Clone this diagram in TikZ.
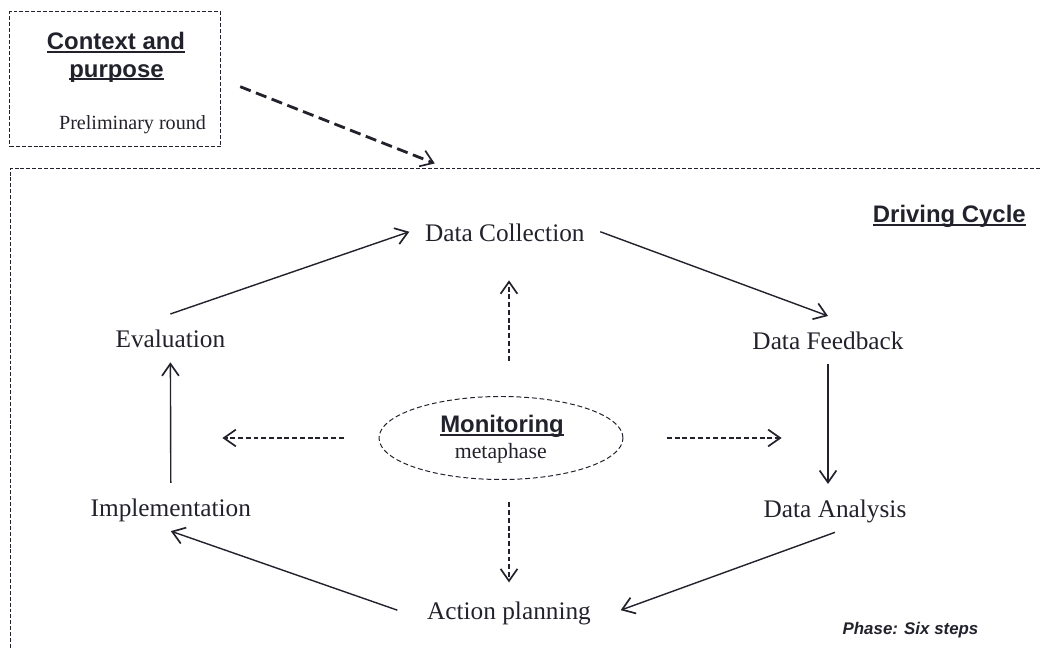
\documentclass[tikz,border=0pt]{standalone}
\usepackage{fontspec}
\setmainfont{Liberation Serif}
\newfontfamily\headfont{Liberation Sans}
\usepackage{tikz}
\usetikzlibrary{arrows.meta}
\usetikzlibrary{positioning}
\usetikzlibrary{shapes.geometric}
\definecolor{ink}{RGB}{34,34,44}
% underline that runs through the descenders
\newcommand{\headbar}[1]{\setbox0\hbox{#1}\rlap{\rule[-2.1pt]{\wd0}{1.3pt}}\box0}
\tikzset{
    >={Straight Barb[length=3mm,width=4.2mm,line width=1.2pt]},
    base/.style =   {
                        text=ink, inner sep=0pt, anchor=base,
                        font=\fontsize{18}{22}\selectfont
                    },
    step_node/.style = {base, text height=24pt, text depth=10pt, inner xsep=11pt},
    heading/.style = {base, font=\headfont\bfseries\fontsize{17}{20}\selectfont},
    small_note/.style = {base, font=\fontsize{14.3}{17}\selectfont},
    frame_line/.style = {draw=ink, line width=0.7pt, dash pattern=on 2.8pt off 1.4pt},
    monitor_shape/.style = {ellipse, draw=ink, line width=0.7pt, dash pattern=on 3.5pt off 2pt,
                            minimum width=6.1cm, minimum height=2.075cm, inner sep=0pt},
    cycle_arrow/.style = {->, draw=ink, line width=1pt},
    monitor_arrow/.style = {->, draw=ink, line width=0.8pt, dash pattern=on 3.5pt off 2pt},
    context_arrow/.style = {->, draw=ink, line width=2pt, dash pattern=on 8pt off 4pt}
}

\begin{document}
\begin{tikzpicture}
    \useasboundingbox (0,0) rectangle (26,16.25);

    % preliminary round
    \node (context)       [frame_line, rectangle, minimum width=5.27cm, minimum height=3.375cm] at (2.884,14.27) {};
    \node (context_top)   [heading] at (2.9,15.0)     {\headbar{Context and}};
    \node (context_low)   [heading] at (2.9125,14.3175) {\headbar{purpose}};
    \node (prelim)        [small_note] at (3.3125,13.0) {Preliminary round};

    % driving cycle frame
    \coordinate (frame_tr) at (26,12.0425);
    \coordinate (frame_bl) at (0.25,0);
    \coordinate (entry)    at (11.175,12.0425);
    \draw[frame_line] (frame_tr) -- (frame_tr -| frame_bl) -- (frame_bl);
    \draw[context_arrow, shorten <=0.51cm, shorten >=0.33cm] (context.east) -- (entry);

    \node (cycle_title)   [heading, anchor=base east] at (25.65,10.675) {\headbar{Driving Cycle}};
    \node (phase)         [base, font=\headfont\bfseries\itshape\fontsize{12}{14}\selectfont] at (22.7625,0.375) {Phase: Six steps};

    % six steps
    \node (collection)     [step_node] at (12.62,10.21)  {Data Collection};
    \node (feedback)       [step_node] at (20.7,7.5)     {Data Feedback};
    \node (analysis)       [step_node] at (20.875,3.3)   {Data Analysis};
    \node (planning)       [step_node, inner xsep=21pt] at (12.725,0.75) {Action planning};
    \node (implementation) [step_node] at (4.27,3.33)    {Implementation};
    \node (evaluation)     [step_node] at (4.26,7.55)    {Evaluation};

    % monitoring metaphase
    \node (monitor)       [monitor_shape] at (12.525,5.3) {};
    \node (monitor_top)   [heading] at (12.55,5.425) {\headbar{Monitoring}};
    \node (monitor_low)   [base, font=\fontsize{15.5}{18}\selectfont] at (12.52,4.775) {metaphase};

    \draw[cycle_arrow]    (evaluation.north) -- (collection.west);
    \draw[cycle_arrow]    (collection.east) -- (feedback.north);
    \draw[cycle_arrow]    (feedback.south) -- (feedback.south |- analysis.north);
    \draw[cycle_arrow]    (analysis.south) -- (planning.east);
    \draw[cycle_arrow]    (planning.west) -- (implementation.south);
    \draw[cycle_arrow]    (implementation.north) -- (evaluation.south);

    \draw[monitor_arrow, shorten <=0.87cm, shorten >=0.61cm] (monitor.north -| planning) -- (collection.south -| planning);
    \draw[monitor_arrow, shorten <=0.56cm, shorten >=0.09cm] (monitor.south -| planning) -- (planning.north);
    \draw[monitor_arrow, shorten <=0.875cm, shorten >=1.3cm] (monitor.west) -- (monitor.west -| evaluation);
    \draw[monitor_arrow, shorten <=1.085cm, shorten >=1.16cm] (monitor.east) -- (monitor.east -| feedback);
\end{tikzpicture}
\end{document}
